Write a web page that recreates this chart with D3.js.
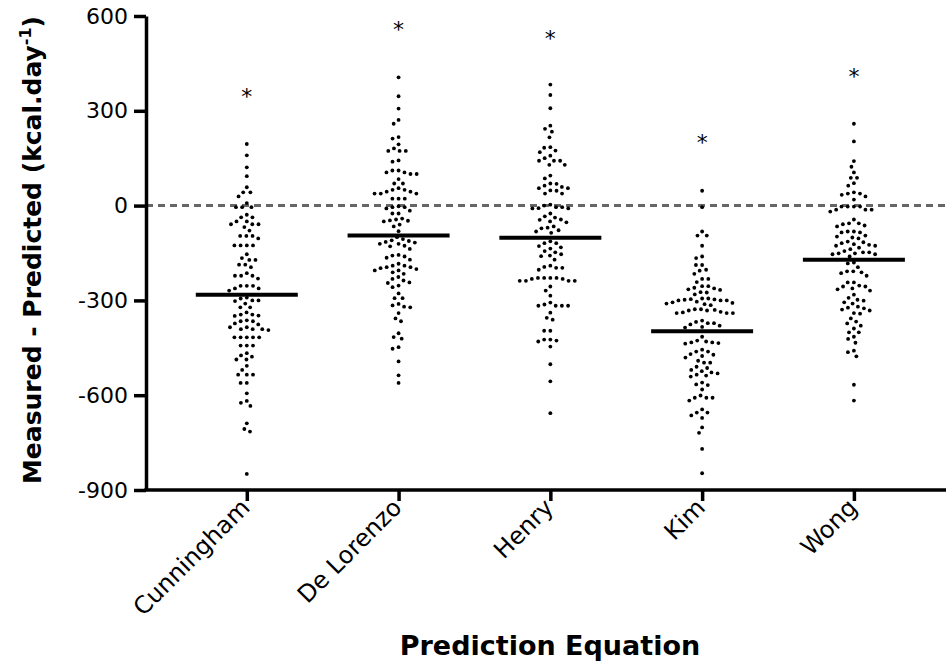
<!DOCTYPE html>
<html>
<head>
<meta charset="utf-8">
<script src="https://cdn.jsdelivr.net/npm/d3@7"></script>
<style>
  html, body { margin: 0; padding: 0; background: #fff; }
  svg { display: block; }
</style>
</head>
<body>
<svg id="chart" width="946" height="661"></svg>
<script>
const categories = ["Cunningham", "De Lorenzo", "Henry", "Kim", "Wong"];

const cunningham = [195, 159, 121, 93, 58, 42, 42, 29, 8, -5, -5, -5, -29, -37, -37, -50, -50, -59, -59, -59, -68, -79,
  -96, -96, -96, -104, -126, -126, -126, -126, -154, -166, -172, -172, -187, -187, -195, -214, -222, -222, -222, -231,
  -254, -254, -254, -262, -262, -269, -291, -300, -302, -310, -300, -294, -322, -322, -338, -345, -349, -348, -345,
  -366, -373, -376, -366, -363, -385, -391, -394, -391, -391, -385, -417, -417, -417, -417, -417, -443, -443, -443,
  -467, -478, -487, -474, -487, -507, -520, -535, -535, -535, -561, -561, -594, -618, -624, -634, -689, -707, -715, -849];

const deLorenzo = [406, 346, 307, 271, 259, 217, 212, 194, 181, 173, 173, 173, 143, 139, 111, 111, 105, 105, 100, 100,
  84, 70, 70, 55, 50, 50, 44, 44, 38, 38, 38, 22, 22, 22, -2, -5, -5, -9, -16, -25, -25, -41, -44, -47, -50, -48, -60,
  -66, -81, -100, -110, -117, -121, -127, -115, -137, -112, -129, -106, -121, -158, -165, -171, -161, -156, -184, -190,
  -198, -205, -195, -195, -190, -201, -211, -216, -205, -226, -237, -232, -243, -253, -258, -245, -278, -293, -293,
  -311, -320, -322, -316, -340, -357, -366, -404, -416, -421, -448, -453, -493, -537, -561];

const henry = [383, 350, 308, 253, 243, 234, 216, 183, 185, 174, 169, 158, 150, 142, 142, 142, 129, 129, 95, 86, 69,
  63, 55, 55, 59, 70, 47, 48, 38, 38, 0, -5, -5, 3, -8, -9, -25, -9, -34, -38, -44, -45, -50, -53, -66, -72, -78, -82,
  -70, -86, -113, -119, -128, -132, -119, -136, -148, -144, -154, -160, -158, -171, -190, -197, -203, -197, -194,
  -229, -229, -232, -238, -238, -238, -238, -232, -229, -229, -256, -269, -285, -307, -313, -317, -317, -317, -317,
  -339, -355, -361, -396, -396, -424, -427, -424, -430, -446, -502, -556, -657];

const kim = [47, -5, -82, -95, -95, -127, -161, -166, -188, -188, -203, -206, -216, -232, -232, -242, -255, -255, -260,
  -267, -274, -265, -262, -281, -275, -294, -298, -300, -304, -300, -297, -300, -296, -294, -310, -315, -306, -312,
  -308, -332, -338, -340, -340, -340, -336, -332, -328, -328, -330, -364, -368, -372, -372, -376, -380, -384, -386,
  -415, -427, -430, -433, -433, -435, -437, -456, -462, -462, -472, -476, -470, -481, -491, -497, -497, -510, -514,
  -520, -524, -528, -531, -535, -538, -541, -560, -566, -568, -582, -601, -608, -608, -608, -617, -645, -655, -655,
  -672, -664, -702, -719, -770, -847];

const wong = [259, 203, 141, 123, 105, 88, 88, 71, 63, 38, 34, 42, 29, 38, 19, -3, -3, -3, -3, -13, -13, -19, -13, -44,
  -56, -59, -66, -63, -56, -82, -85, -85, -95, -82, -98, -104, -101, -116, -122, -127, -127, -124, -119, -114, -133,
  -148, -138, -148, -151, -154, -154, -151, -144, -161, -180, -183, -195, -208, -214, -222, -211, -208, -243, -243,
  -256, -262, -265, -269, -256, -253, -282, -292, -301, -306, -310, -298, -320, -329, -325, -340, -323, -342, -332,
  -357, -373, -367, -380, -389, -401, -415, -401, -422, -434, -459, -464, -477, -567, -617];

const seriesValues = [cunningham, deLorenzo, henry, kim, wong];
const means = [-282, -95, -102, -398, -171];
const asteriskValues = [358, 573, 544, 215, 424];
const yTicks = [600, 300, 0, -300, -600, -900];
const yLabel = "Measured - Predicted (kcal.day";
const xLabel = "Prediction Equation";

const svg = d3.select("#chart");
const axisLeftX = 146, axisRightX = 946;

const y = d3.scaleLinear().domain([-900, 600]).range([490, 16]);
const x = d3.scalePoint().domain(categories).range([246.8, 853.9]);

// zero dashed line
svg.append("line")
  .attr("x1", axisLeftX).attr("x2", axisRightX)
  .attr("y1", y(0)).attr("y2", y(0))
  .attr("stroke", "#666").attr("stroke-width", 3)
  .attr("stroke-dasharray", "7,5");

// beeswarm
function swarm(values, cx, D) {
  const pts = values.map(v => ({ v, y: y(v) })).sort((a, b) => a.y - b.y);
  const placed = [];
  pts.forEach(p => {
    const intervals = [];
    placed.forEach(q => {
      const dy = Math.abs(q.y - p.y);
      if (dy < D) {
        const dx = Math.sqrt(D * D - dy * dy);
        intervals.push([q.x - dx, q.x + dx]);
      }
    });
    const cands = [0];
    intervals.forEach(iv => { cands.push(iv[0], iv[1]); });
    cands.sort((a, b) => Math.abs(a) - Math.abs(b));
    let chosen = 0;
    for (const c of cands) {
      if (!intervals.some(iv => c > iv[0] + 1e-6 && c < iv[1] - 1e-6)) { chosen = c; break; }
    }
    p.x = chosen;
    placed.push(p);
  });
  return pts.map(p => ({ x: cx + p.x, y: p.y }));
}

categories.forEach((c, i) => {
  const pts = swarm(seriesValues[i], x(c), 6.2);
  svg.append("g").selectAll("circle").data(pts).join("circle")
    .attr("cx", d => d.x).attr("cy", d => d.y).attr("r", 1.9).attr("fill", "#000");
});

// mean lines
svg.append("g").selectAll("line").data(categories).join("line")
  .attr("x1", c => x(c) - 51).attr("x2", c => x(c) + 51)
  .attr("y1", (c, i) => y(means[i])).attr("y2", (c, i) => y(means[i]))
  .attr("stroke", "#000").attr("stroke-width", 4);

// asterisks
svg.append("g").selectAll("text").data(categories).join("text")
  .attr("x", c => x(c)).attr("y", (c, i) => y(asteriskValues[i]) + 12)
  .attr("text-anchor", "middle")
  .attr("font-family", "DejaVu Sans").attr("font-size", 22).attr("fill", "#000")
  .text("*");

// y axis
const yAxis = svg.append("g").attr("transform", `translate(${axisLeftX},0)`)
  .call(d3.axisLeft(y).tickValues(yTicks).tickSize(12).tickSizeOuter(0).tickPadding(6).tickFormat(d3.format("d")));
yAxis.select(".domain").attr("stroke-width", 3.5);
yAxis.selectAll(".tick line").attr("stroke-width", 3.5);
yAxis.selectAll(".tick text").attr("font-family", "DejaVu Sans").attr("font-size", 22).attr("fill", "#000")
  .text(d => d < 0 ? "-" + Math.abs(d) : d);

// x axis
svg.append("line").attr("x1", axisLeftX - 1.75).attr("x2", axisRightX)
  .attr("y1", 490).attr("y2", 490).attr("stroke", "#000").attr("stroke-width", 3.5);
const xAxis = svg.append("g").attr("transform", "translate(0,490)")
  .call(d3.axisBottom(x).tickSize(11).tickSizeOuter(0));
xAxis.select(".domain").remove();
xAxis.selectAll(".tick line").attr("stroke-width", 3.5);
xAxis.selectAll(".tick text")
  .attr("font-family", "DejaVu Sans").attr("font-size", 24).attr("fill", "#000")
  .attr("x", 0).attr("y", 0).attr("dy", 0)
  .attr("text-anchor", "end")
  .attr("transform", "translate(4,19) rotate(-45)");

// y label
const yl = svg.append("text")
  .attr("transform", "translate(41,250) rotate(-90)")
  .attr("text-anchor", "middle")
  .attr("font-family", "DejaVu Sans").attr("font-weight", "bold").attr("font-size", 25);
yl.append("tspan").text(yLabel);
yl.append("tspan").attr("font-size", 16).attr("dy", -10).text("-1");
yl.append("tspan").attr("dy", 10).text(")");

// x label
svg.append("text").attr("x", 550).attr("y", 655)
  .attr("text-anchor", "middle")
  .attr("font-family", "DejaVu Sans").attr("font-weight", "bold").attr("font-size", 27)
  .text(xLabel);
</script>
</body>
</html>
